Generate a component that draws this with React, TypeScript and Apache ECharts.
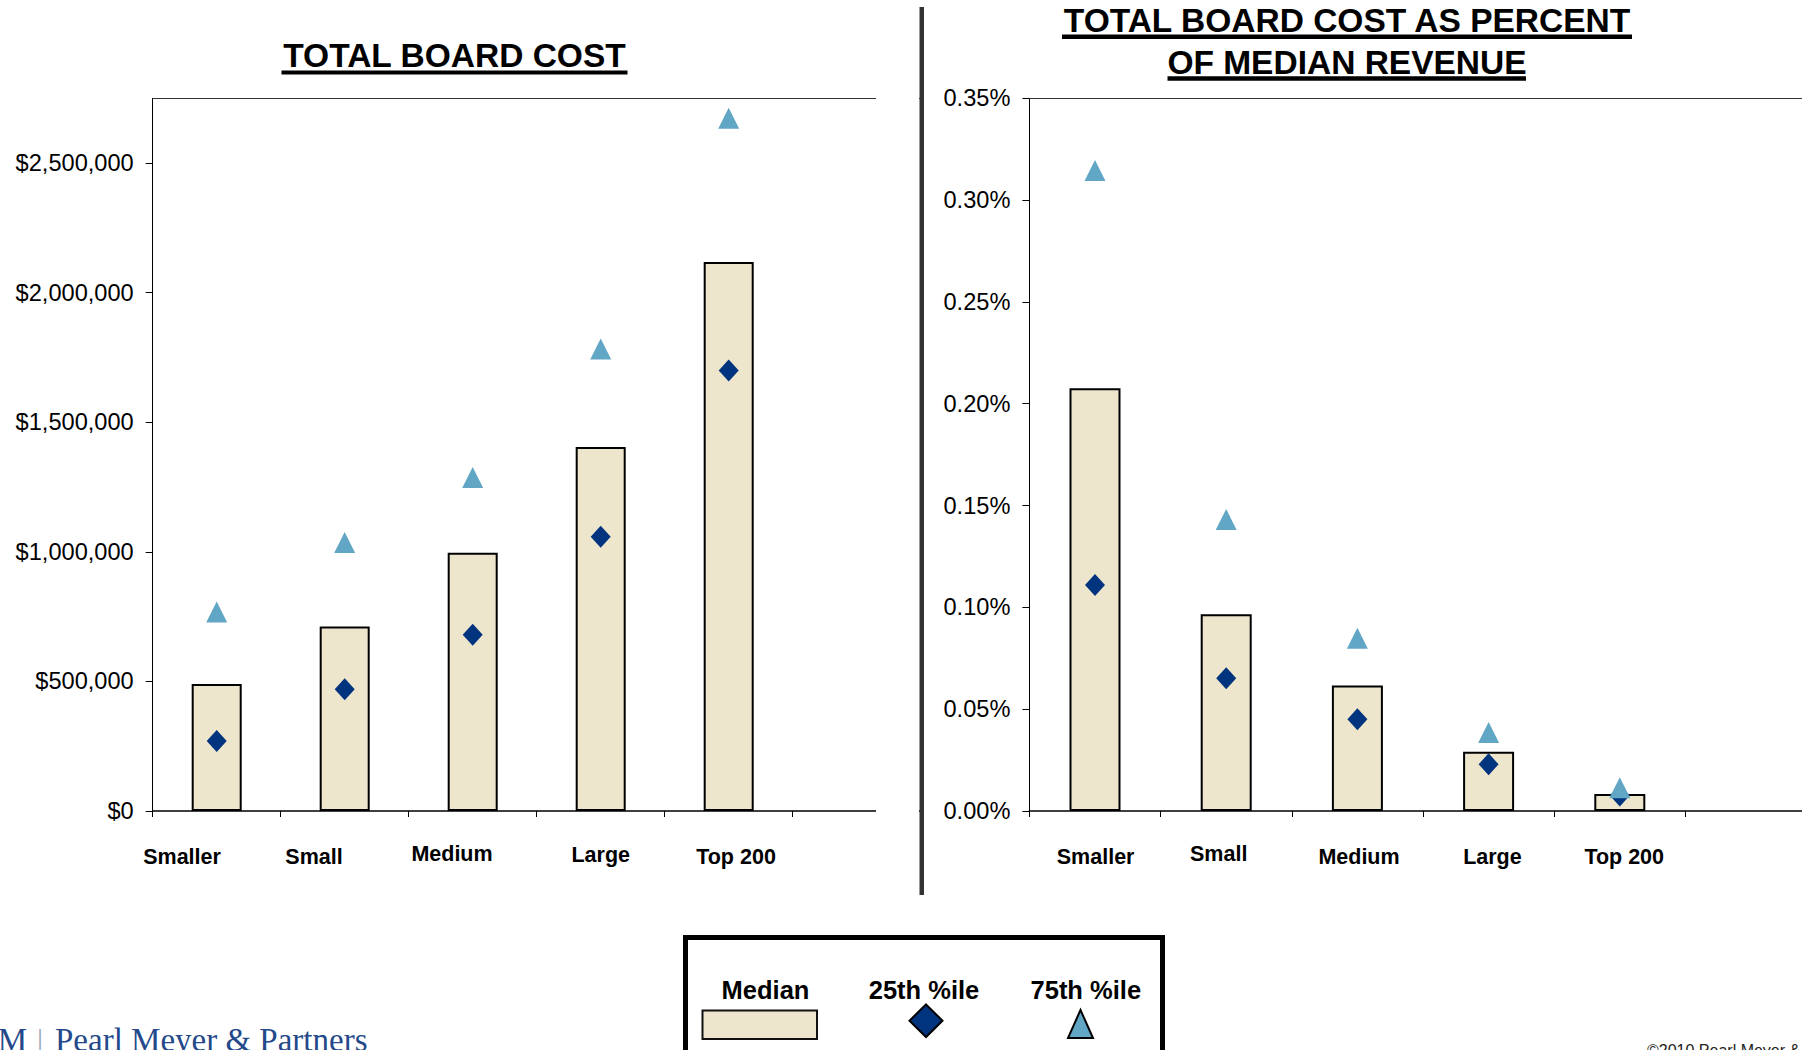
import React, { useEffect, useRef } from "react";
import * as echarts from "echarts";

// ---- data ----
const categories = ["Smaller", "Small", "Medium", "Large", "Top 200", ""];
const costMedian = [490000, 712000, 996000, 1405000, 2118000, null];
const cost25th = [270000, 470000, 680000, 1058000, 1700000, null];
const cost75th = [768000, 1036000, 1287000, 1783000, 2673000, null];
const pctMedian = [0.2076, 0.0966, 0.0616, 0.0291, 0.0083, null];
const pct25th = [0.111, 0.0652, 0.045, 0.0229, 0.0076, null];
const pct75th = [0.3146, 0.1432, 0.0848, 0.0386, 0.0114, null];
const costAxis = { min: 0, max: 2750000, interval: 500000 };
const pctAxis = { min: 0, max: 0.35, interval: 0.05 };
const legendLabels = ["Median", "25th %ile", "75th %ile"];
const leftTitle = "TOTAL BOARD COST";
const rightTitle = ["TOTAL BOARD COST AS PERCENT", "OF MEDIAN REVENUE"];

// ---- style ----
const FONT = '"Liberation Sans", Arial, sans-serif';
const SERIF = '"Liberation Serif", "Times New Roman", serif';
const BEIGE = "#EDE5CC";
const NAVY = "#00347E";
const LIGHT = "#62A6C6";
const leftLabelShift = [-34.7, -30.7, -20.7, 0, 7.3, 0];
const leftLabelDrop = [3, 3, 0, 1, 3, 0];
const rightLabelShift = [0.6, -7.5, 1.6, 3.8, 4.4, 0];
const rightLabelDrop = [3, 0, 3, 3, 3, 0];

const makeRich = (shift: number[], drop: number[]) => {
  const r: Record<string, any> = {};
  shift.forEach((s, i) => {
    r["c" + i] = {
      fontSize: 21.5,
      fontWeight: "bold",
      fontFamily: FONT,
      color: "#000",
      padding: [drop[i], s < 0 ? -2 * s : 0, 0, s > 0 ? 2 * s : 0],
    };
  });
  return r;
};

const bottomAxis = (grid: number, shift: number[], drop: number[]) => ({
  type: "category",
  gridIndex: grid,
  data: categories,
  position: "bottom",
  axisLine: { show: true, lineStyle: { color: "#000", width: 1.5 } },
  axisTick: { show: true, length: 6, lineStyle: { color: "#000", width: 1 } },
  splitLine: { show: false },
  axisLabel: {
    interval: 0,
    margin: 32,
    formatter: (v: string, i: number) => (v ? `{c${i}|${v}}` : ""),
    rich: makeRich(shift, drop),
  },
});

const topAxis = (grid: number) => ({
  type: "category",
  gridIndex: grid,
  data: categories,
  position: "top",
  axisLine: { show: true, lineStyle: { color: "#333", width: 1 } },
  axisTick: { show: false },
  axisLabel: { show: false },
  splitLine: { show: false },
});

const valueAxis = (grid: number, cfg: any, fmt: (v: number) => string) => ({
  type: "value",
  gridIndex: grid,
  min: cfg.min,
  max: cfg.max,
  interval: cfg.interval,
  axisLine: { show: true, lineStyle: { color: "#000", width: 1 } },
  axisTick: { show: true, length: 7, lineStyle: { color: "#000", width: 1 } },
  splitLine: { show: false },
  axisLabel: {
    fontSize: 23.6,
    fontFamily: FONT,
    color: "#000",
    margin: 19,
    formatter: fmt,
  },
});

const seriesFor = (xi: number, med: any[], p25: any[], p75: any[], bw: number) => [
  {
    type: "bar",
    xAxisIndex: xi,
    yAxisIndex: xi,
    data: med,
    barWidth: bw,
    itemStyle: { color: BEIGE, borderColor: "#000", borderWidth: 2 },
  },
  {
    type: "scatter",
    xAxisIndex: xi,
    yAxisIndex: xi,
    data: p25,
    symbol: "diamond",
    symbolSize: [20, 22],
    itemStyle: { color: NAVY, opacity: 1 },
  },
  {
    type: "scatter",
    xAxisIndex: xi,
    yAxisIndex: xi,
    data: p75,
    symbol: "triangle",
    symbolSize: [21, 21],
    itemStyle: { color: LIGHT, opacity: 1 },
  },
];

const txt = (x: number, y: number, text: string, font: string, fill: string, align = "center", z = 110) => ({
  type: "text",
  z,
  style: { x, y, text, font, fill, textAlign: align, textVerticalAlign: "top" },
});

const rect = (x: number, y: number, w: number, h: number, style: any, z = 100) => ({
  type: "rect",
  z,
  shape: { x, y, width: w, height: h },
  style,
});

export default function App() {
  const ref = useRef<HTMLDivElement>(null);
  useEffect(() => {
    if (!ref.current) return;
    const chart = echarts.init(ref.current, null, { renderer: "svg" });
    const titleFont = `bold 33.5px ${FONT}`;
    const legFont = `bold 25.5px ${FONT}`;
    chart.setOption({
      animation: false,
      backgroundColor: "#fff",
      grid: [
        { left: 152.7, top: 98.3, width: 768, height: 712.7 },
        { left: 1029.4, top: 98.3, width: 787.2, height: 712.7 },
      ],
      xAxis: [
        bottomAxis(0, leftLabelShift, leftLabelDrop),
        bottomAxis(1, rightLabelShift, rightLabelDrop),
        topAxis(0),
        topAxis(1),
      ],
      yAxis: [
        valueAxis(0, costAxis, (v: number) =>
          v % costAxis.interval === 0 ? "$" + v.toLocaleString("en-US") : ""
        ),
        valueAxis(1, pctAxis, (v: number) => v.toFixed(2) + "%"),
      ],
      series: [
        ...seriesFor(0, costMedian, cost25th, cost75th, 50),
        ...seriesFor(1, pctMedian, pct25th, pct75th, 51),
      ],
      graphic: [
        // cover left chart overflow, the stray top tick, and the divider line
        rect(876, 88, 43, 745, { fill: "#fff" }, 100),
        rect(143, 95, 9, 5, { fill: "#fff" }, 100),
        rect(919.5, 7, 4.5, 888, { fill: "#333" }, 101),
        // titles
        txt(454.5, 38.1, leftTitle, titleFont, "#000"),
        rect(281.5, 70.5, 346, 4, { fill: "#000" }, 110),
        txt(1347, 3.9, rightTitle[0], titleFont, "#000"),
        rect(1062, 34.5, 570, 4.5, { fill: "#000" }, 110),
        txt(1347, 45.6, rightTitle[1], titleFont, "#000"),
        rect(1167.5, 76.2, 358.5, 4.5, { fill: "#000" }, 110),
        // legend
        rect(685.5, 937.5, 477, 200, { fill: "#fff", stroke: "#000", lineWidth: 5 }, 105),
        txt(765.5, 977.2, legendLabels[0], legFont, "#000"),
        txt(924, 977.2, legendLabels[1], legFont, "#000"),
        txt(1085.8, 977.2, legendLabels[2], legFont, "#000"),
        rect(702.5, 1010.5, 114.5, 28.5, { fill: BEIGE, stroke: "#111", lineWidth: 2 }, 110),
        {
          type: "polygon",
          z: 110,
          shape: { points: [[926, 1004.5], [942.5, 1020.7], [926, 1037], [909.5, 1020.7]] },
          style: { fill: NAVY, stroke: "#000", lineWidth: 2 },
        },
        {
          type: "polygon",
          z: 110,
          shape: { points: [[1080.5, 1010], [1093, 1038], [1068, 1038]] },
          style: { fill: LIGHT, stroke: "#000", lineWidth: 2 },
        },
        // logo and copyright
        txt(27, 1023.5, "PM", `33px ${SERIF}`, "#24498A", "right"),
        txt(40, 1023.5, "|", `30px ${SERIF}`, "#9AA8BE", "center"),
        txt(55, 1023.5, "Pearl Meyer & Partners", `33px ${SERIF}`, "#24498A", "left"),
        txt(1647, 1042.9, "©2010 Pearl Meyer & Partners", `16px ${FONT}`, "#222", "left"),
      ],
    });
    return () => chart.dispose();
  }, []);
  return (
    <div
      style={{ position: "absolute", left: 0, top: 0, width: 1802, height: 1050, overflow: "hidden", background: "#fff" }}
    >
      <div ref={ref} style={{ position: "absolute", left: 0, top: 0, width: 1860, height: 1050 }} />
    </div>
  );
}
